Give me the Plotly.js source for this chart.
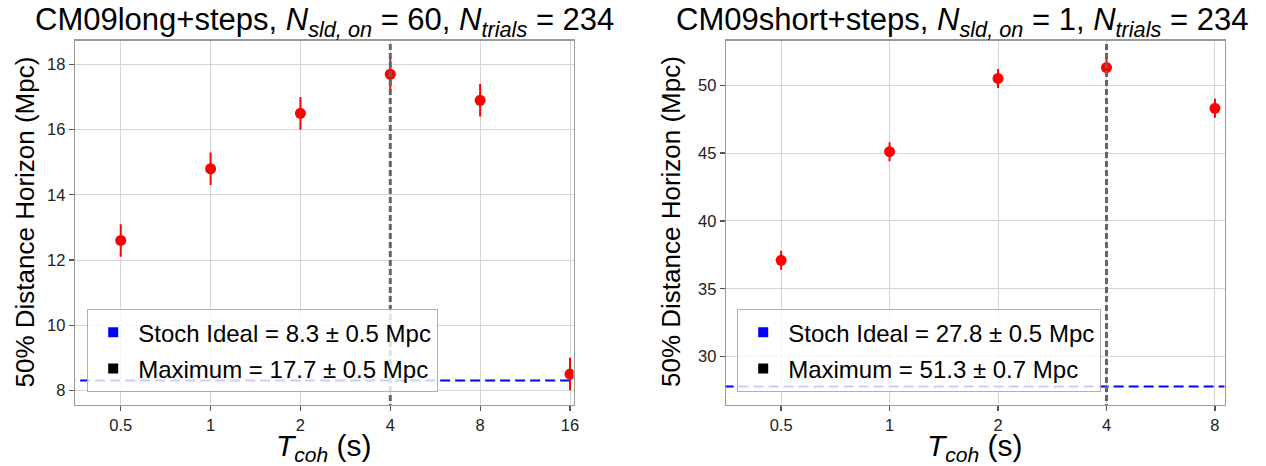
<!DOCTYPE html>
<html>
<head>
<meta charset="utf-8">
<script src="https://cdn.plot.ly/plotly-3.0.1.min.js"></script>
<style>html,body{margin:0;padding:0;background:#fff;}#chart{width:1266px;height:466px;}</style>
</head>
<body>
<div id="chart"></div>
<script>
// ---- data ----
const tcohLong = [0.5, 1, 2, 4, 8, 16];
const horizonLong = [12.6, 14.8, 16.5, 17.7, 16.9, 8.5];
const errLong = [0.5, 0.5, 0.5, 0.5, 0.5, 0.5];
const stochLong = 8.3, stochLongErr = 0.5;
const maxLong = 17.7, maxLongErr = 0.5, maxLongT = 4;

const tcohShort = [0.5, 1, 2, 4, 8];
const horizonShort = [37.1, 45.1, 50.5, 51.3, 48.3];
const errShort = [0.7, 0.7, 0.7, 0.7, 0.7];
const stochShort = 27.8, stochShortErr = 0.5;
const maxShort = 51.3, maxShortErr = 0.7, maxShortT = 4;

const tickLong = [0.5, 1, 2, 4, 8, 16];
const tickShort = [0.5, 1, 2, 4, 8];

const FONT = 'Liberation Sans, Arial, sans-serif';
const L2 = Math.log10(2);

function panel(xs, ys, es, stoch, stochErr, mx, mxErr, mxT, xa, ya, leg) {
  return [
    {x: [1e-3, 1e3], y: [stoch, stoch], xaxis: xa, yaxis: ya, mode: 'lines',
     line: {color: 'blue', width: 2, dash: '10px,5px'}, showlegend: false, hoverinfo: 'skip'},
    {x: xs, y: ys, xaxis: xa, yaxis: ya, mode: 'markers', showlegend: false,
     marker: {color: 'red', size: 11},
     error_y: {type: 'data', array: es, visible: true, color: 'red', thickness: 2, width: 0}},
    {x: [mxT, mxT], y: [-1000, 1000], xaxis: xa, yaxis: ya, mode: 'lines',
     line: {color: '#666', width: 3, dash: '6px,3px'}, showlegend: false, hoverinfo: 'skip'},
    {x: [null], y: [null], xaxis: xa, yaxis: ya, mode: 'markers', legend: leg, legendgroup: 'a' + leg,
     name: 'Stoch Ideal = ' + stoch.toFixed(1) + ' \u00b1 ' + stochErr.toFixed(1) + ' Mpc',
     marker: {color: 'blue', size: 10, symbol: 'square'}},
    {x: [null], y: [null], xaxis: xa, yaxis: ya, mode: 'markers', legend: leg, legendgroup: 'b' + leg,
     name: 'Maximum = ' + mx.toFixed(1) + ' \u00b1 ' + mxErr.toFixed(1) + ' Mpc',
     marker: {color: 'black', size: 10, symbol: 'square'}}
  ];
}

const data = [].concat(
  panel(tcohLong, horizonLong, errLong, stochLong, stochLongErr, maxLong, maxLongErr, maxLongT, 'x', 'y', 'legend'),
  panel(tcohShort, horizonShort, errShort, stochShort, stochShortErr, maxShort, maxShortErr, maxShortT, 'x2', 'y2', 'legend2')
);

const axCommon = {
  showline: true, mirror: true, linecolor: '#9a9a9a', linewidth: 1.3,
  showgrid: true, gridcolor: '#d6d6d6', gridwidth: 1,
  ticks: 'outside', ticklen: 5, tickcolor: '#555', tickwidth: 1.2,
  tickfont: {family: FONT, size: 16.5, color: '#222'}, zeroline: false
};
const yDom = [1 - 405 / 466, 1 - 40.7 / 466];

const legCommon = {
  bgcolor: 'rgba(255,255,255,0.8)', bordercolor: '#b0b0b0', borderwidth: 1.2,
  font: {family: FONT, size: 24, color: '#000'}, xanchor: 'left', yanchor: 'top',
  traceorder: 'grouped', tracegroupgap: 2, itemwidth: 40
};

const titleFont = {family: FONT, size: 31, color: '#000'};
const axTitleFont = {family: FONT, size: 26, color: '#000'};
const xTitleFont = {family: FONT, size: 30, color: '#000'};

const layout = {
  width: 1266, height: 466,
  margin: {l: 0, r: 0, t: 0, b: 0},
  paper_bgcolor: '#fff', plot_bgcolor: '#fff',
  showlegend: true,
  xaxis: Object.assign({}, axCommon, {type: 'log', domain: [75 / 1266, 573.5 / 1266], anchor: 'y',
    range: [-1.509 * L2, 4.039 * L2], tickvals: tickLong, ticktext: tickLong.map(String)}),
  yaxis: Object.assign({}, axCommon, {domain: yDom, anchor: 'x', range: [7.55, 18.73], dtick: 2, tick0: 0}),
  xaxis2: Object.assign({}, axCommon, {type: 'log', domain: [726 / 1266, 1224.5 / 1266], anchor: 'y2',
    range: [-1.508 * L2, 3.088 * L2], tickvals: tickShort, ticktext: tickShort.map(String)}),
  yaxis2: Object.assign({}, axCommon, {domain: yDom, anchor: 'x2', range: [26.44, 53.28], dtick: 5, tick0: 0}),
  legend: Object.assign({}, legCommon, {x: 87 / 1266, y: 1 - 309 / 466}),
  legend2: Object.assign({}, legCommon, {x: 737 / 1266, y: 1 - 309 / 466}),
  annotations: [
    {text: 'CM09long+steps, <i>N</i><sub><i>sld, on</i></sub> = 60, <i>N</i><sub><i>trials</i></sub> = 234',
     xref: 'paper', yref: 'paper', x: 324 / 1266, y: 1 - 22 / 466, xanchor: 'center', yanchor: 'middle',
     showarrow: false, font: titleFont},
    {text: 'CM09short+steps, <i>N</i><sub><i>sld, on</i></sub> = 1, <i>N</i><sub><i>trials</i></sub> = 234',
     xref: 'paper', yref: 'paper', x: 962 / 1266, y: 1 - 22 / 466, xanchor: 'center', yanchor: 'middle',
     showarrow: false, font: titleFont},
    {text: '50% Distance Horizon (Mpc)', textangle: -90, xref: 'paper', yref: 'paper',
     x: 24.5 / 1266, y: 1 - 222 / 466, xanchor: 'center', yanchor: 'middle', showarrow: false,
     font: axTitleFont},
    {text: '50% Distance Horizon (Mpc)', textangle: -90, xref: 'paper', yref: 'paper',
     x: 671 / 1266, y: 1 - 222 / 466, xanchor: 'center', yanchor: 'middle', showarrow: false,
     font: axTitleFont},
    {text: '<i>T</i><sub><i>coh</i></sub> (s)', xref: 'paper', yref: 'paper',
     x: (75 + 573.5) / 2 / 1266, y: 1 - 447 / 466, xanchor: 'center', yanchor: 'middle', showarrow: false,
     font: xTitleFont},
    {text: '<i>T</i><sub><i>coh</i></sub> (s)', xref: 'paper', yref: 'paper',
     x: (726 + 1224.5) / 2 / 1266, y: 1 - 447 / 466, xanchor: 'center', yanchor: 'middle', showarrow: false,
     font: xTitleFont}
  ]
};

Plotly.newPlot('chart', data, layout, {displayModeBar: false, staticPlot: true});
</script>
</body>
</html>
